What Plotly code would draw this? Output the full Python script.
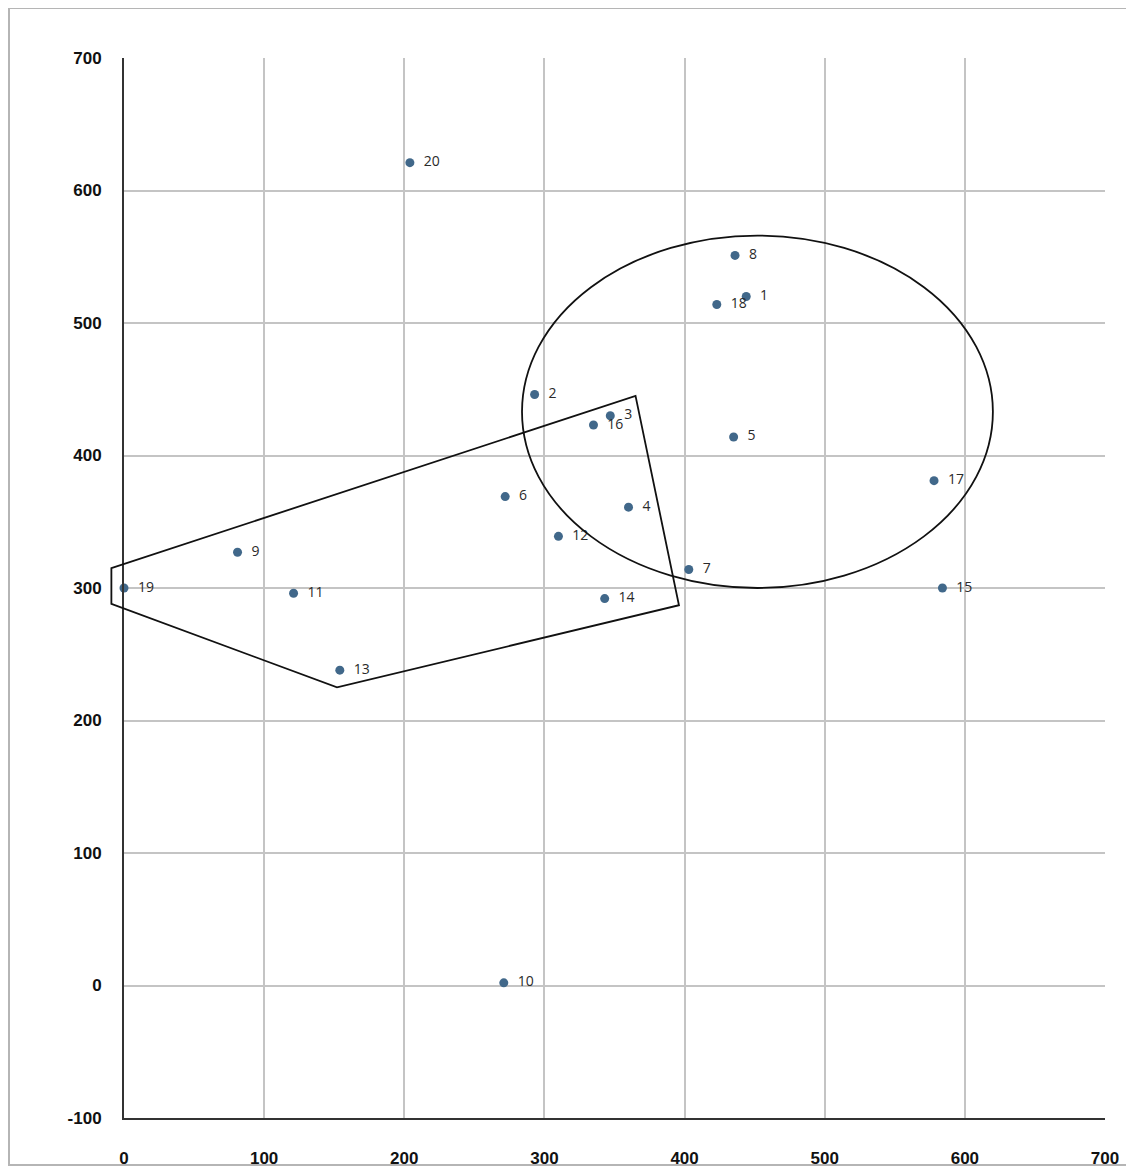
import plotly.graph_objects as go

# Data
labels = [str(i) for i in range(1, 21)]
xs = [444, 293, 347, 360, 435, 272, 403, 436, 81, 271, 121, 310, 154, 343, 584, 335, 578, 423, 0, 204]
ys = [520, 446, 430, 361, 414, 369, 314, 551, 327, 2, 296, 339, 238, 292, 300, 423, 381, 514, 300, 621]

x_ticks = [0, 100, 200, 300, 400, 500, 600, 700]
y_ticks = [-100, 0, 100, 200, 300, 400, 500, 600, 700]
y_tick_text = ["-100", "0", "100", "200", "300", "400", "500", "600", "700"]

# Highlight shapes (data coordinates)
poly_x = [-9, 365, 396, 152, -9]
poly_y = [315, 445, 287, 225, 288]
ellipse_x = [284, 620]
ellipse_y = [300, 566]

X_RANGE = [0, 700]
Y_RANGE = [-100, 700]

# page has an 8px body margin
W, H = 1126, 1165
ML, MR, MT, MB = 116, 29, 50, 55


def to_paper_x(v):
    return (v - X_RANGE[0]) / (X_RANGE[1] - X_RANGE[0])


def to_paper_y(v):
    return (v - Y_RANGE[0]) / (Y_RANGE[1] - Y_RANGE[0])


fig = go.Figure()
fig.add_trace(go.Scatter(
    x=xs, y=ys, mode="markers+text",
    text=["  " + t for t in labels],
    textposition="middle right",
    textfont=dict(family="Open Sans, Liberation Sans, Arial", size=14, color="#2a2a2a"),
    marker=dict(size=9, color="#41688a"),
    cliponaxis=False,
    showlegend=False,
    hoverinfo="skip",
))

path = "M " + " L ".join(f"{to_paper_x(a):.5f},{to_paper_y(b):.5f}" for a, b in zip(poly_x, poly_y)) + " Z"
plot_w = W - ML - MR
plot_h = H - MT - MB

shapes = [
    dict(type="path", xref="paper", yref="paper", path=path,
         line=dict(color="#111111", width=1.8), fillcolor="rgba(0,0,0,0)", layer="above"),
    dict(type="circle", xref="x", yref="y", x0=ellipse_x[0], x1=ellipse_x[1],
         y0=ellipse_y[0], y1=ellipse_y[1], line=dict(color="#111111", width=1.8), layer="above"),
    # outer frame
    dict(type="rect", xref="paper", yref="paper",
         x0=(1 - ML) / plot_w, x1=(1121 - ML) / plot_w,
         y0=(H - MT - 1162) / plot_h, y1=(H - MT - 5) / plot_h,
         line=dict(color="#b5b5b5", width=2), fillcolor="rgba(0,0,0,0)", layer="below"),
]

tickfont = dict(family="Liberation Sans, Arial", size=17, color="#111111", weight="bold")

fig.update_layout(
    width=W, height=H,
    margin=dict(l=ML, r=MR, t=MT, b=MB),
    paper_bgcolor="white", plot_bgcolor="white",
    shapes=shapes,
    xaxis=dict(range=X_RANGE, tickvals=x_ticks, showgrid=True, gridcolor="#c4c4c4", gridwidth=1.5,
               zeroline=False, showline=True, linecolor="#333333", linewidth=2, automargin=False,
               tickfont=tickfont, ticks="", ticklabelstandoff=24, fixedrange=True),
    yaxis=dict(range=Y_RANGE, tickvals=y_ticks, ticktext=y_tick_text, showgrid=True,
               gridcolor="#c4c4c4", gridwidth=1.5, automargin=False,
               zeroline=False, showline=True, linecolor="#333333", linewidth=2,
               tickfont=tickfont, ticks="", ticklabelstandoff=17, fixedrange=True),
)

fig.write_html("out.html")
